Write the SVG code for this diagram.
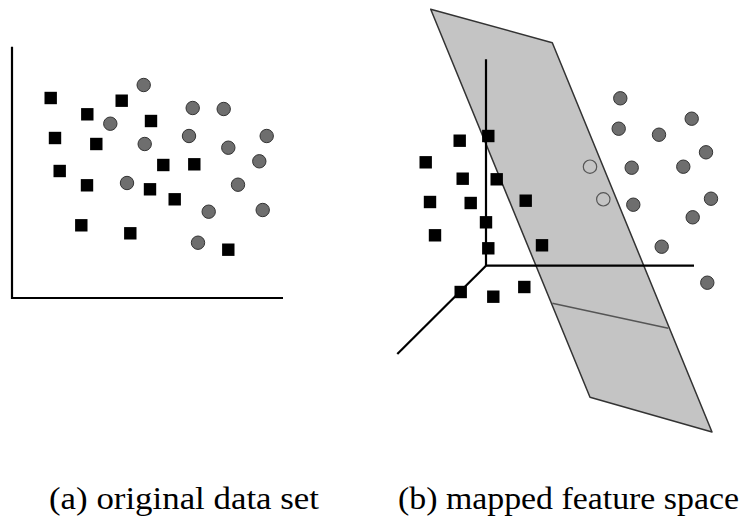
<svg xmlns="http://www.w3.org/2000/svg" xmlns:xlink="http://www.w3.org/1999/xlink" width="742" height="529" viewBox="0 0 742 529">
  <style>
    .axis { stroke: #000; stroke-width: 2.2; fill: none; stroke-linecap: butt; }
    .sq { fill: #000; }
    .dot { fill: #6e6e6e; stroke: #333; stroke-width: 1; }
    .open { fill: none; stroke: #555; stroke-width: 1.2; }
    .plane { fill: #c4c4c4; stroke: #333; stroke-width: 1.5; stroke-linejoin: round; }
    .caption { font-family: "Liberation Serif", "DejaVu Serif", serif; font-size: 31px; fill: #000; }
  </style>
  <defs>
    <rect id="s" x="-6.2" y="-6.2" width="12.4" height="12.4" class="sq"/>
    <circle id="c" r="6.7" class="dot"/>
  </defs>
  <rect width="742" height="529" fill="#fff"/>

  <g id="panel-a">
    <g id="axes-a">
      <polyline class="axis" points="12,46.7 12,298 283,298"/>
    </g>
    <g id="squares-a">
      <use xlink:href="#s" x="50.7" y="98"/>
      <use xlink:href="#s" x="87.3" y="114.3"/>
      <use xlink:href="#s" x="121.7" y="100.7"/>
      <use xlink:href="#s" x="151" y="121"/>
      <use xlink:href="#s" x="55" y="138"/>
      <use xlink:href="#s" x="96.3" y="144"/>
      <use xlink:href="#s" x="59.7" y="171"/>
      <use xlink:href="#s" x="87" y="185.3"/>
      <use xlink:href="#s" x="163.3" y="165"/>
      <use xlink:href="#s" x="194.3" y="164.3"/>
      <use xlink:href="#s" x="150" y="189.3"/>
      <use xlink:href="#s" x="174.7" y="199.3"/>
      <use xlink:href="#s" x="81.3" y="225.3"/>
      <use xlink:href="#s" x="130.3" y="233.3"/>
      <use xlink:href="#s" x="228.3" y="249.7"/>
    </g>
    <g id="circles-a">
      <use xlink:href="#c" x="143.7" y="85"/>
      <use xlink:href="#c" x="110.3" y="123.7"/>
      <use xlink:href="#c" x="192.7" y="108"/>
      <use xlink:href="#c" x="223.7" y="109"/>
      <use xlink:href="#c" x="189" y="136"/>
      <use xlink:href="#c" x="144.7" y="144"/>
      <use xlink:href="#c" x="266.7" y="136"/>
      <use xlink:href="#c" x="228.3" y="147.7"/>
      <use xlink:href="#c" x="259.3" y="161.3"/>
      <use xlink:href="#c" x="127" y="183"/>
      <use xlink:href="#c" x="238" y="184.7"/>
      <use xlink:href="#c" x="208.7" y="211.7"/>
      <use xlink:href="#c" x="262.7" y="210"/>
      <use xlink:href="#c" x="198" y="242.7"/>
    </g>
  </g>

  <g id="panel-b">
    <g id="plane">
      <polygon class="plane" points="430.7,9.3 552.3,42.7 712,432 590,397.3"/>
      <line x1="552.3" y1="303.3" x2="668.3" y2="328.3" stroke="#555" stroke-width="1.4"/>
    </g>
    <g id="axes-b">
      <polyline class="axis" points="486,59.3 486,265.7 694,265.7"/>
      <line class="axis" x1="486" y1="265.7" x2="397.3" y2="354"/>
    </g>
    <g id="squares-b">
      <use xlink:href="#s" x="459.7" y="140.7"/>
      <use xlink:href="#s" x="488.3" y="136"/>
      <use xlink:href="#s" x="425.7" y="162.3"/>
      <use xlink:href="#s" x="462.7" y="178.7"/>
      <use xlink:href="#s" x="496.7" y="179.3"/>
      <use xlink:href="#s" x="430" y="202"/>
      <use xlink:href="#s" x="470.7" y="203"/>
      <use xlink:href="#s" x="525.7" y="200.7"/>
      <use xlink:href="#s" x="486" y="222.3"/>
      <use xlink:href="#s" x="435" y="235.3"/>
      <use xlink:href="#s" x="488.3" y="248.3"/>
      <use xlink:href="#s" x="542" y="245.3"/>
      <use xlink:href="#s" x="460.7" y="292"/>
      <use xlink:href="#s" x="493.3" y="296.7"/>
      <use xlink:href="#s" x="524.3" y="287"/>
    </g>
    <g id="circles-b">
      <use xlink:href="#c" x="620.3" y="98.3"/>
      <use xlink:href="#c" x="618.7" y="128.7"/>
      <use xlink:href="#c" x="659" y="134.7"/>
      <use xlink:href="#c" x="691.7" y="118.7"/>
      <use xlink:href="#c" x="706" y="152.3"/>
      <use xlink:href="#c" x="631.7" y="167.7"/>
      <use xlink:href="#c" x="683.3" y="166.7"/>
      <use xlink:href="#c" x="711" y="198.7"/>
      <use xlink:href="#c" x="633.3" y="204.7"/>
      <use xlink:href="#c" x="692.7" y="217.3"/>
      <use xlink:href="#c" x="661.7" y="246.7"/>
      <use xlink:href="#c" x="707.3" y="282.7"/>
      <circle class="open" cx="590" cy="166.7" r="6.7"/>
      <circle class="open" cx="603.3" cy="199.3" r="6.7"/>
    </g>
  </g>

  <g id="captions">
    <text class="caption" x="49" y="509" textLength="270" lengthAdjust="spacingAndGlyphs">(a) original data set</text>
    <text class="caption" x="398" y="509" textLength="341" lengthAdjust="spacingAndGlyphs">(b) mapped feature space</text>
  </g>
</svg>
